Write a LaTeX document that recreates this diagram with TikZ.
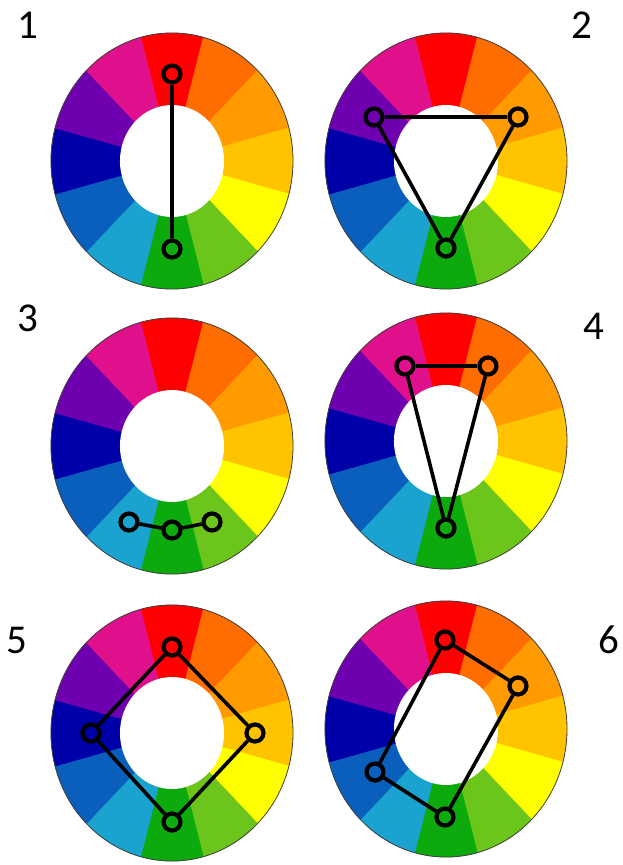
\documentclass[tikz,border=0pt]{standalone}
\usepackage{fontspec}
\setmainfont{Carlito}
\definecolor{cRed}{HTML}{FF0000}
\definecolor{cOrRed}{HTML}{FF6C00}
\definecolor{cOrange}{HTML}{FF9A00}
\definecolor{cGold}{HTML}{FFC300}
\definecolor{cYellow}{HTML}{FFFF00}
\definecolor{cYelGreen}{HTML}{6CC51A}
\definecolor{cGreen}{HTML}{0CAA0C}
\definecolor{cCyan}{HTML}{1AA3CF}
\definecolor{cBlue}{HTML}{0A5FBD}
\definecolor{cDkBlue}{HTML}{0000A8}
\definecolor{cViolet}{HTML}{6F00B0}
\definecolor{cMagenta}{HTML}{E0108C}
\tikzset{
  marknode/.style={circle, draw=black, line width=4.2pt, minimum size=17pt, inner sep=0pt},
  conn/.style={draw=black, line width=3.6pt},
  numlabel/.style={font=\fontsize{41}{44}\selectfont, inner sep=0pt, text=black}
}
\newcommand\mywheel[2]{%
  \begin{scope}[shift={(#1,#2)}, xscale=121, yscale=-128]
    \foreach \c [count=\i from 0] in {cRed,cOrRed,cOrange,cGold,cYellow,cYelGreen,cGreen,cCyan,cBlue,cDkBlue,cViolet,cMagenta} {
      \pgfmathsetmacro\aone{105-30*\i}
      \pgfmathsetmacro\atwo{75-30*\i}
      \filldraw[fill=\c, draw=\c, line width=0.5pt] (0,0) -- (\aone:1) arc[start angle=\aone, end angle=\atwo, radius=1] -- cycle;
    }
    \draw[black!75, line width=0.8pt] (0,0) circle[radius=1];
    \fill[white] (0,0) circle[x radius=0.43, y radius=0.4375];
  \end{scope}}
\begin{document}
\begin{tikzpicture}[x=1pt, y=-1pt]
  \useasboundingbox[fill=white] (0,0) rectangle (623,865);
  % wheels
  \mywheel{172}{161}
  \mywheel{446}{161}
  \mywheel{172}{446}
  \mywheel{446}{441}
  \mywheel{172}{733}
  \mywheel{446}{729}
  % labels
  \node[numlabel] (n1) at (28,25) {1};
  \node[numlabel] (n2) at (582,25) {2};
  \node[numlabel] (n3) at (28,318) {3};
  \node[numlabel] (n4) at (594,326) {4};
  \node[numlabel] (n5) at (17,640) {5};
  \node[numlabel] (n6) at (609,640) {6};
  % wheel 1
  \node[marknode] (w1a) at (172,74) {};
  \node[marknode] (w1b) at (172,249) {};
  \draw[conn] (w1a) -- (w1b);
  % wheel 2
  \node[marknode] (w2a) at (374,117) {};
  \node[marknode] (w2b) at (518,117) {};
  \node[marknode] (w2c) at (446,248) {};
  \draw[conn] (w2a) -- (w2b);
  \draw[conn] (w2b) -- (w2c);
  \draw[conn] (w2c) -- (w2a);
  % wheel 3
  \node[marknode] (w3a) at (129,522) {};
  \node[marknode] (w3b) at (172,530) {};
  \node[marknode] (w3c) at (212,522) {};
  \draw[conn] (w3a) -- (w3b);
  \draw[conn] (w3b) -- (w3c);
  % wheel 4
  \node[marknode] (w4a) at (405,366) {};
  \node[marknode] (w4b) at (488,366) {};
  \node[marknode] (w4c) at (446,528) {};
  \draw[conn] (w4a) -- (w4b);
  \draw[conn] (w4b) -- (w4c);
  \draw[conn] (w4c) -- (w4a);
  % wheel 5
  \node[marknode] (w5a) at (172,647) {};
  \node[marknode] (w5b) at (255,733) {};
  \node[marknode] (w5c) at (172,822) {};
  \node[marknode] (w5d) at (91,733) {};
  \draw[conn] (w5a) -- (w5b);
  \draw[conn] (w5b) -- (w5c);
  \draw[conn] (w5c) -- (w5d);
  \draw[conn] (w5d) -- (w5a);
  % wheel 6
  \node[marknode] (w6a) at (445,640) {};
  \node[marknode] (w6b) at (518,686) {};
  \node[marknode] (w6c) at (445,817) {};
  \node[marknode] (w6d) at (375,772) {};
  \draw[conn] (w6a) -- (w6b);
  \draw[conn] (w6b) -- (w6c);
  \draw[conn] (w6c) -- (w6d);
  \draw[conn] (w6d) -- (w6a);
\end{tikzpicture}
\end{document}
